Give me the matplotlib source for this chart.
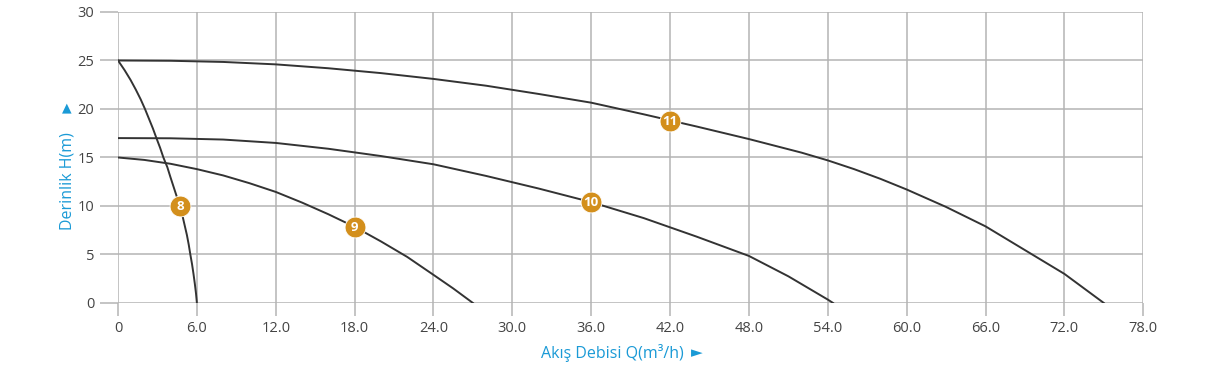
import matplotlib
matplotlib.use("Agg")
import matplotlib.pyplot as plt

# Pump curves: flow Q (m3/h) vs head H (m)
q8 = [0, 0.5, 0.95, 1.35, 1.72, 2.05, 2.35, 2.65, 2.92, 3.2, 3.45, 3.75, 3.98, 4.22,
      4.46, 4.7, 4.9, 5.07, 5.24, 5.38, 5.5, 5.63, 5.74, 5.84, 5.93, 6.0]
h8 = [25, 24, 23, 22, 21, 20, 19, 18, 17, 16, 15, 14, 13, 12,
      11, 10, 9, 8, 7, 6, 5, 4, 3, 2, 1, 0]

q9 = [0, 2, 4, 6, 8, 10, 12, 14, 16, 18, 20, 22, 24, 25.5, 27]
h9 = [15, 14.75, 14.35, 13.8, 13.15, 12.35, 11.45, 10.35, 9.15, 7.85, 6.35, 4.75, 2.9, 1.5, 0]

q10 = [0, 4, 8, 12, 16, 20, 24, 28, 32, 36, 40, 44, 48, 51, 54, 54.4]
h10 = [17.0, 16.98, 16.85, 16.5, 15.9, 15.15, 14.3, 13.1, 11.8, 10.4, 8.75, 6.85, 4.85, 2.75, 0.35, 0]

q11 = [0, 4, 8, 12, 16, 20, 24, 28, 32, 36, 40, 44, 48, 50, 52, 54, 56, 58, 60,
       63, 66, 69, 72, 74, 75]
h11 = [25, 24.97, 24.85, 24.6, 24.2, 23.7, 23.1, 22.4, 21.55, 20.65, 19.45, 18.2, 16.9,
       16.2, 15.5, 14.7, 13.8, 12.8, 11.7, 9.9, 7.9, 5.45, 3.0, 1.0, 0]

# curve labels (number, Q, H)
label_names = ["8", "9", "10", "11"]
label_q = [4.7, 18, 36, 42]
label_h = [10, 7.85, 10.4, 18.8]

x_ticks = [0, 6, 12, 18, 24, 30, 36, 42, 48, 54, 60, 66, 72, 78]
x_tick_labels = ["0", "6.0", "12.0", "18.0", "24.0", "30.0", "36.0", "42.0",
                 "48.0", "54.0", "60.0", "66.0", "72.0", "78.0"]
y_ticks = [0, 5, 10, 15, 20, 25, 30]

plt.rcParams['font.family'] = ['Open Sans', 'DejaVu Sans']

fig = plt.figure(figsize=(12.07, 3.77), dpi=100)
ax = fig.add_axes([0.0978, 0.1963, 0.8494, 0.7719])

grid_col = '#b4b4b4'
line_col = '#333333'
blue = '#1a9ad6'
orange = '#d38f1c'

for q, h in [(q8, h8), (q9, h9), (q10, h10), (q11, h11)]:
    ax.plot(q, h, color=line_col, lw=1.4, solid_joinstyle='round', zorder=3)

for name, q, h in zip(label_names, label_q, label_h):
    ax.plot(q, h, 'o', ms=15, color=orange, mec='white', mew=0.6, zorder=4)
    ax.text(q, h - 0.05, name, ha='center', va='center', color='white',
            fontsize=9.5, fontweight='bold', zorder=5)

ax.set_xlim(0, 78)
ax.set_ylim(0, 30)
ax.set_xticks(x_ticks)
ax.set_xticklabels(x_tick_labels)
ax.set_yticks(y_ticks)
ax.grid(True, color=grid_col, lw=1.1, zorder=1)
for s in ax.spines.values():
    s.set_visible(False)
ax.tick_params(axis='x', length=9, width=1.1, color=grid_col, pad=4,
               labelsize=10.5, labelcolor='#444444')
ax.tick_params(axis='y', length=13, width=1.1, color=grid_col, pad=4,
               labelsize=10.5, labelcolor='#444444')

# axis titles with arrow markers
fig.text(612 / 1207, 1 - 353 / 377, "Akış Debisi Q(m³/h)", color=blue,
         fontsize=11.5, ha='center', va='center')
fig.text(697 / 1207, 1 - 353 / 377, "►", color=blue, fontsize=11,
         ha='center', va='center', family='DejaVu Sans')
fig.text(67 / 1207, 1 - 181 / 377, "Derinlik H(m)", color=blue,
         fontsize=11.5, ha='center', va='center', rotation=90)
fig.text(67 / 1207, 1 - 108 / 377, "▲", color=blue, fontsize=9,
         ha='center', va='center', family='DejaVu Sans')

fig.savefig("out.png", dpi=100)
